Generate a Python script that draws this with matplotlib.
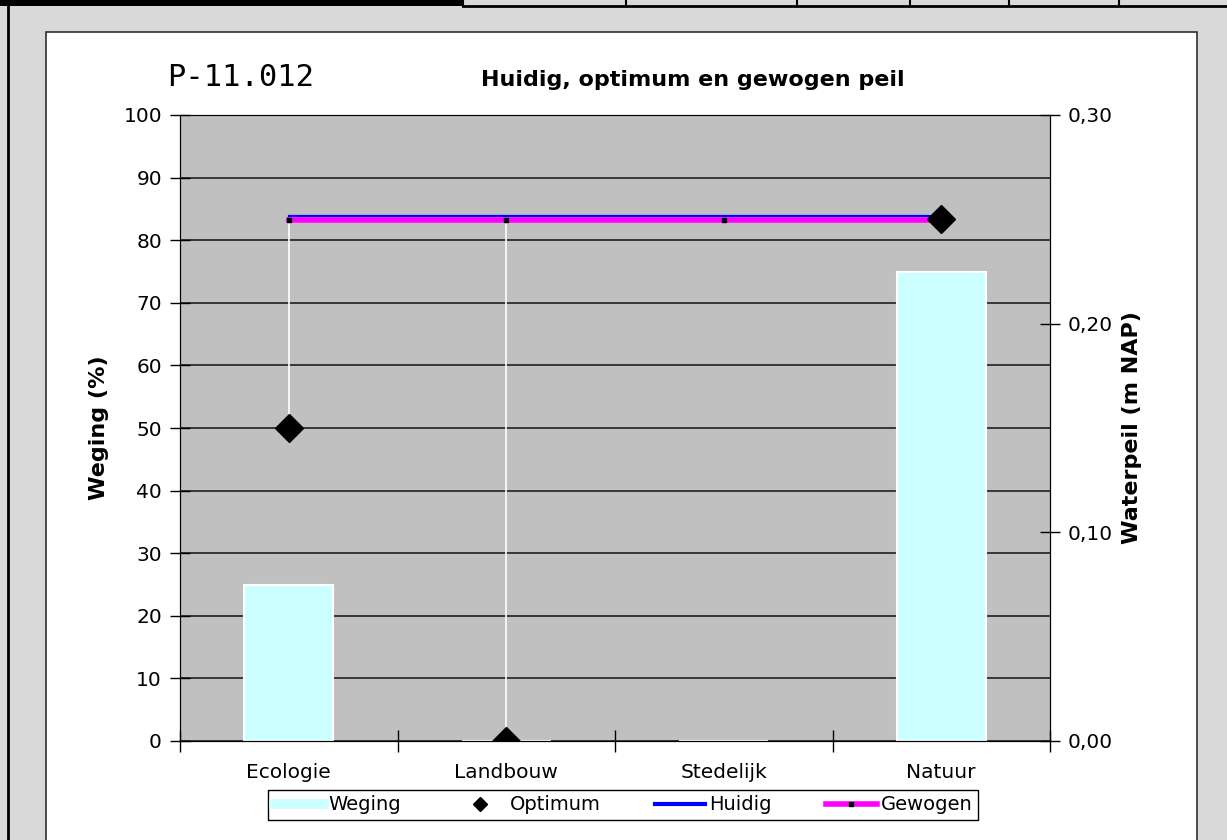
import matplotlib
matplotlib.use("Agg")
import matplotlib.pyplot as plt
import matplotlib.transforms as mtransforms
from matplotlib.lines import Line2D
from matplotlib.patches import Rectangle
import numpy as np

# data
categories = ["Ecologie", "Landbouw", "Stedelijk", "Natuur"]
weging = [25, 0, 0, 75]               # %
optimum = [0.15, 0.00, np.nan, 0.25]  # m NAP
huidig = [0.25, 0.25, 0.25, 0.25]
gewogen = [0.25, 0.25, 0.25, 0.25]

W, H = 1227, 840
fig = plt.figure(figsize=(W / 100, H / 100), dpi=100)
fig.patch.set_facecolor("#d9d9d9")

# spreadsheet-ish surroundings (kept behind the axes)
fig.add_artist(Rectangle((0, 1 - 6 / H), 463 / W, 6 / H, transform=fig.transFigure,
                         facecolor="black", edgecolor="none", zorder=-5))
fig.add_artist(Line2D([463 / W, 1], [1 - 6 / H] * 2, transform=fig.transFigure,
                      color="black", lw=2, zorder=-5))
for xs in [463, 626, 797, 910, 1009, 1119]:
    fig.add_artist(Line2D([xs / W] * 2, [1 - 6 / H, 1], transform=fig.transFigure,
                          color="black", lw=1.5, zorder=-5))
fig.text(545 / W, 1 + 7 / H, "Weging (%)", ha="center", va="baseline", fontsize=11)
fig.add_artist(Line2D([7.5 / W] * 2, [0, 1 - 6 / H], transform=fig.transFigure,
                      color="black", lw=2, zorder=-5))
fig.add_artist(Rectangle((46 / W, -0.01), (1197 - 46) / W, 1 - 32 / H + 0.01,
                         transform=fig.transFigure, facecolor="white",
                         edgecolor="#303030", lw=1.2, zorder=-5))

# main axes
ax = fig.add_axes([180 / W, 1 - 741 / H, 870 / W, 626 / H])
ax.set_facecolor("#c0c0c0")
x = np.arange(len(categories))
ax.bar(x, weging, width=0.41, color="#ccffff", edgecolor="white", lw=1.5, zorder=2)
ax.set_xlim(-0.5, 3.5)
ax.set_ylim(0, 100)
ax.set_yticks(range(0, 101, 10))
ax.yaxis.grid(True, color="#202020", lw=1.2)
ax.set_axisbelow(True)
ax.set_xticks(x)
ax.set_xticklabels(categories, fontsize=14.5)
ax.set_xticks([-0.5, 0.5, 1.5, 2.5, 3.5], minor=True)
ax.tick_params(axis="x", which="major", length=0, pad=16)
ax.tick_params(axis="x", which="minor", direction="inout", length=16, width=1)
ax.tick_params(axis="y", direction="inout", length=14, width=1, labelsize=14.5, pad=6)
ax.set_ylabel("Weging (%)", fontsize=16, fontweight="bold", labelpad=10)
ax.spines["top"].set_color("#606060")
for s in ["left", "bottom"]:
    ax.spines[s].set_color("black")

# secondary axis (water level)
ax2 = ax.twinx()
ax2.set_ylim(0, 0.3)
ax2.set_yticks([0, 0.1, 0.2, 0.3])
ax2.set_yticklabels(["0,00", "0,10", "0,20", "0,30"])
ax2.tick_params(axis="y", direction="inout", length=14, width=1, labelsize=14.5, pad=6)
ax2.set_ylabel("Waterpeil (m NAP)", fontsize=16, fontweight="bold", labelpad=6)
ax2.spines["right"].set_color("black")

opt = np.array(optimum)
ok = ~np.isnan(opt)
ax2.vlines(x[ok], opt[ok], np.array(gewogen)[ok], color="white", lw=1.2, zorder=2)
up = mtransforms.offset_copy(ax2.transData, fig=fig, y=3, units="dots")
ax2.plot(x, huidig, color="#0000ff", lw=1.6, transform=up, zorder=3)
down = mtransforms.offset_copy(ax2.transData, fig=fig, y=-1, units="dots")
ax2.plot(x, gewogen, color="#ff00ff", lw=4, marker="s", ms=3,
         mfc="black", mec="black", transform=down, zorder=4)
ax2.plot(x, optimum, ls="none", marker="D", ms=14, color="black", zorder=5)

# titles
fig.text(693 / W, 1 - 80 / H, "Huidig, optimum en gewogen peil", ha="center",
         va="center", fontsize=16, fontweight="bold")
fig.text(167 / W, 1 - 77 / H, "P-11.012", ha="left", va="center",
         fontsize=22, family="DejaVu Sans Mono")

# legend
handles = [
    Line2D([], [], color="#ccffff", lw=7),
    Line2D([], [], ls="none", marker="D", ms=7, color="black"),
    Line2D([], [], color="#0000ff", lw=3),
    Line2D([], [], color="#ff00ff", lw=4, marker="s", ms=3, mfc="black", mec="black"),
]
leg = fig.legend(handles, ["Weging", "Optimum", "Huidig", "Gewogen"], ncol=4,
                 loc="center", bbox_to_anchor=(268 / W, 1 - 822 / H, 710 / W, 34 / H),
                 mode="expand", fontsize=14, frameon=True, fancybox=False,
                 edgecolor="black", framealpha=1, handlelength=2.6,
                 handletextpad=0.2, borderpad=0.3, borderaxespad=0)
leg.get_frame().set_linewidth(1)

fig.savefig("out.png", dpi=100, facecolor=fig.get_facecolor())
